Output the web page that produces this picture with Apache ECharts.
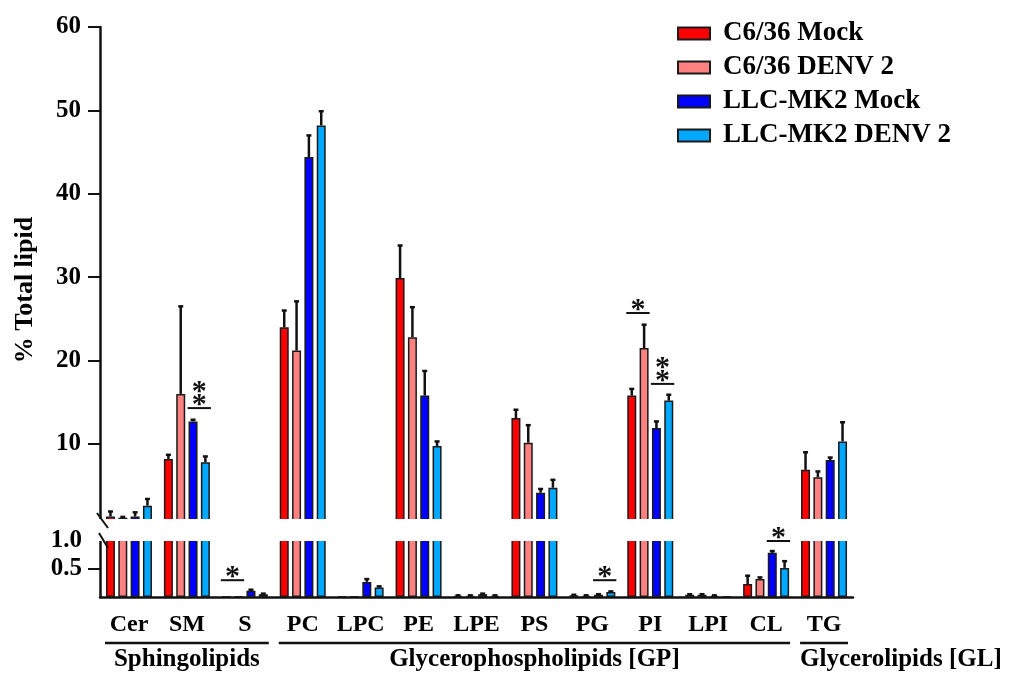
<!DOCTYPE html>
<html>
<head>
<meta charset="utf-8">
<script src="https://cdn.jsdelivr.net/npm/echarts@6/dist/echarts.min.js"></script>
<style>
html,body{margin:0;padding:0;background:#fff;}
#chart{width:1021px;height:675px;}
</style>
</head>
<body>
<div id="chart"></div>
<script>
// ---- data ----
var categories = ['Cer','SM','S','PC','LPC','PE','LPE','PS','PG','PI','LPI','CL','TG'];
var seriesNames = ['C6/36 Mock','C6/36 DENV 2','LLC-MK2 Mock','LLC-MK2 DENV 2'];
var c636Mock     = [1.3, 8.2, 0.01, 24.0, 0.01, 29.9, 0.02, 13.1, 0.03, 15.8, 0.04, 0.23, 6.9];
var c636MockErr  = [0.6, 0.5, 0,    2.0,  0,    3.9,  0.01, 1.0,  0.01, 0.8,  0.01, 0.15, 2.1];
var c636Denv     = [1.15,16.0,0.005,21.2, 0.005,22.8, 0.02, 10.15,0.02, 21.5, 0.04, 0.32, 6.0];
var c636DenvErr  = [0.1, 10.5,0,    5.9,  0,    3.6,  0.01, 2.1,  0.01, 2.8,  0.01, 0.03, 0.7];
var llcMock      = [1.3, 12.7,0.11, 44.4, 0.27, 15.8, 0.05, 4.15, 0.04, 11.9, 0.02, 0.79, 8.07];
var llcMockErr   = [0.5, 0.2, 0.02, 2.6,  0.05, 2.95, 0.01, 0.45, 0.01, 0.8,  0.01, 0.03, 0.3];
var llcDenv      = [2.6, 7.8, 0.05, 48.2, 0.17, 9.75, 0.02, 4.75, 0.09, 15.2, 0.01, 0.52, 10.3];
var llcDenvErr   = [0.8, 0.7, 0.01, 1.7,  0.02, 0.55, 0.01, 0.95, 0.01, 0.7,  0,    0.12, 2.3];
var upperTicks = [10,20,30,40,50,60];
var lowerTicks = [0.5];
var lowerLabels = [0.5, 1.0];
// significance: [category, firstBar, lastBar, lineValue, stars]
var sigUpper = [['SM',2,3,14.3,2],['PI',0,1,25.7,1],['PI',2,3,17.2,2]];
var sigLower = [['S',0,1,0.30,1],['PG',2,3,0.30,1],['CL',2,3,1.0,1]];
// groups: [label, first category, last category, text alignment]
var groups = [['Sphingolipids','Cer','S','center'],['Glycerophospholipids [GP]','PC','CL','center'],['Glycerolipids [GL]','TG','TG','left']];

var values = [c636Mock, c636Denv, llcMock, llcDenv];
var errors = [c636MockErr, c636DenvErr, llcMockErr, llcDenvErr];
var colors = ['#ff0000','#ff8080','#0000ff','#00a8ff'];

var FONT = '"Liberation Serif","Times New Roman",serif';
var BAR_W = 9, BAR_GAP = 0.37;
var PITCH = BAR_W * (1 + BAR_GAP);
function offsetOf(i){ return (i - 1.5) * PITCH; }

var chart = echarts.init(document.getElementById('chart'));

var series = [];
[0,1].forEach(function(g){
  for (var i = 0; i < 4; i++) {
    series.push({
      name: seriesNames[i], type: 'bar', xAxisIndex: g, yAxisIndex: g,
      data: values[i], barWidth: BAR_W, barGap: (BAR_GAP*100)+'%',
      itemStyle: {color: colors[i], borderColor: '#1a1a1a', borderWidth: 1.5},
      emphasis: {disabled: true}, z: 2
    });
  }
  for (var j = 0; j < 4; j++) {
    (function(j){
      var d = [];
      values[j].forEach(function(v, k){
        var inGrid = g === 0 ? v >= 1 : v < 1;
        if (inGrid && errors[j][k] > 0) d.push([k, v, errors[j][k]]);
      });
      series.push({
        type: 'custom', xAxisIndex: g, yAxisIndex: g, data: d, z: 3, silent: true,
        renderItem: function(params, api){
          var c = api.value(0), v = api.value(1), e = api.value(2);
          var b = api.coord([c, v]); var t = api.coord([c, v + e]);
          var x = b[0] + offsetOf(j);
          return {type: 'group', children: [
            {type: 'line', shape: {x1: x, y1: b[1], x2: x, y2: t[1]}, style: {stroke: '#111', lineWidth: 2.5}},
            {type: 'line', shape: {x1: x - 2.5, y1: t[1], x2: x + 2.5, y2: t[1]}, style: {stroke: '#111', lineWidth: 2.5}}
          ]};
        }
      });
    })(j);
  }
  var sig = g === 0 ? sigUpper : sigLower;
  series.push({
    type: 'custom', xAxisIndex: g, yAxisIndex: g, z: 200, silent: true,
    data: sig.map(function(s){ return [categories.indexOf(s[0]), s[3], s[1], s[2], s[4]]; }),
    renderItem: function(params, api){
      var c = api.value(0), v = api.value(1), a = api.value(2), b2 = api.value(3), n = api.value(4);
      var p = api.coord([c, v]);
      var x1 = p[0] + offsetOf(a) - BAR_W/2 - 1, x2 = p[0] + offsetOf(b2) + BAR_W/2 + 1;
      var ch = [{type: 'line', shape: {x1: x1, y1: p[1], x2: x2, y2: p[1]}, style: {stroke: '#111', lineWidth: 2}}];
      for (var k = 0; k < n; k++) {
        ch.push({type: 'text', style: {text: '*', x: (x1 + x2)/2, y: p[1] - 3 - k*13, align: 'center', verticalAlign: 'middle',
          font: 'bold 30px ' + FONT, fill: '#111'}});
      }
      return {type: 'group', children: ch};
    }
  });
});

var axisLineStyle = {color: '#111', width: 2.5};
var option = {
  backgroundColor: '#fff',
  animation: false,
  legend: {
    data: seriesNames, orient: 'vertical', left: 677, top: 20, padding: 0, itemWidth: 32, itemHeight: 12, itemGap: 7,
    icon: 'rect', selectedMode: false,
    textStyle: {fontFamily: FONT, fontWeight: 'bold', fontSize: 27, color: '#000', lineHeight: 26, padding: [0,0,0,8]}
  },
  grid: [
    {left: 100, right: 168, top: 27, bottom: 151},
    {left: 100, right: 168, top: 535.4, bottom: 78}
  ],
  xAxis: [
    {type: 'category', gridIndex: 0, data: categories, show: false},
    {type: 'category', gridIndex: 1, data: categories,
      axisLine: {lineStyle: axisLineStyle},
      axisTick: {alignWithLabel: true, length: 7, lineStyle: {color: '#111', width: 2.5}},
      axisLabel: {fontFamily: FONT, fontWeight: 'bold', fontSize: 24, color: '#000', margin: 16, interval: 0}}
  ],
  yAxis: [
    {type: 'value', gridIndex: 0, min: 0.4, max: 60,
      splitLine: {show: false},
      axisLine: {show: true, lineStyle: axisLineStyle},
      axisTick: {show: true, length: 12, lineStyle: {color: '#111', width: 2}, customValues: upperTicks},
      axisLabel: {fontFamily: FONT, fontWeight: 'bold', fontSize: 25, color: '#000', margin: 19, customValues: upperTicks}},
    {type: 'value', gridIndex: 1, min: 0, max: 1.1,
      splitLine: {show: false},
      axisLine: {show: true, lineStyle: axisLineStyle},
      axisTick: {show: true, length: 12, lineStyle: {color: '#111', width: 2}, customValues: lowerTicks},
      axisLabel: {fontFamily: FONT, fontWeight: 'bold', fontSize: 25, color: '#000', margin: 18, customValues: lowerLabels,
        formatter: function(v){ return v.toFixed(1); }}}
  ],
  series: series
};
chart.setOption(option);

// decorations: break gap, break marks, axis title, group brackets
var gapTop = chart.convertToPixel({yAxisIndex: 0}, 1.0);
var gapBottom = chart.convertToPixel({yAxisIndex: 1}, 1.0);
var xEnd = chart.convertToPixel({xAxisIndex: 1}, 'TG') + 40;
var band = chart.convertToPixel({xAxisIndex: 1}, 'SM') - chart.convertToPixel({xAxisIndex: 1}, 'Cer');
var gfx = [
  {type: 'rect', z: 100, shape: {x: 98, y: gapTop, width: xEnd - 98, height: gapBottom - gapTop}, style: {fill: '#fff'}},
  {type: 'line', z: 150, shape: {x1: 97, y1: gapTop - 6, x2: 108, y2: gapTop + 9}, style: {stroke: '#111', lineWidth: 2}},
  {type: 'line', z: 150, shape: {x1: 99, y1: gapBottom - 8, x2: 108, y2: gapBottom + 7}, style: {stroke: '#111', lineWidth: 2}},
  {type: 'text', z: 150, x: 25, y: 290, rotation: Math.PI/2,
    style: {text: '% Total lipid', align: 'center', verticalAlign: 'middle', font: 'bold 26px ' + FONT, fill: '#000'}}
];
groups.forEach(function(gr){
  var a = chart.convertToPixel({xAxisIndex: 1}, gr[1]) - band/2 + 5;
  var b = chart.convertToPixel({xAxisIndex: 1}, gr[2]) + band/2 - 5;
  gfx.push({type: 'line', z: 150, shape: {x1: a, y1: 643, x2: b, y2: 643}, style: {stroke: '#111', lineWidth: 2.5}});
  gfx.push({type: 'text', z: 150, x: gr[3] === 'left' ? a : (a + b)/2, y: 660,
    style: {text: gr[0], align: gr[3], verticalAlign: 'middle', font: 'bold 25px ' + FONT, fill: '#000'}});
});
chart.setOption({graphic: gfx});
</script>
</body>
</html>
